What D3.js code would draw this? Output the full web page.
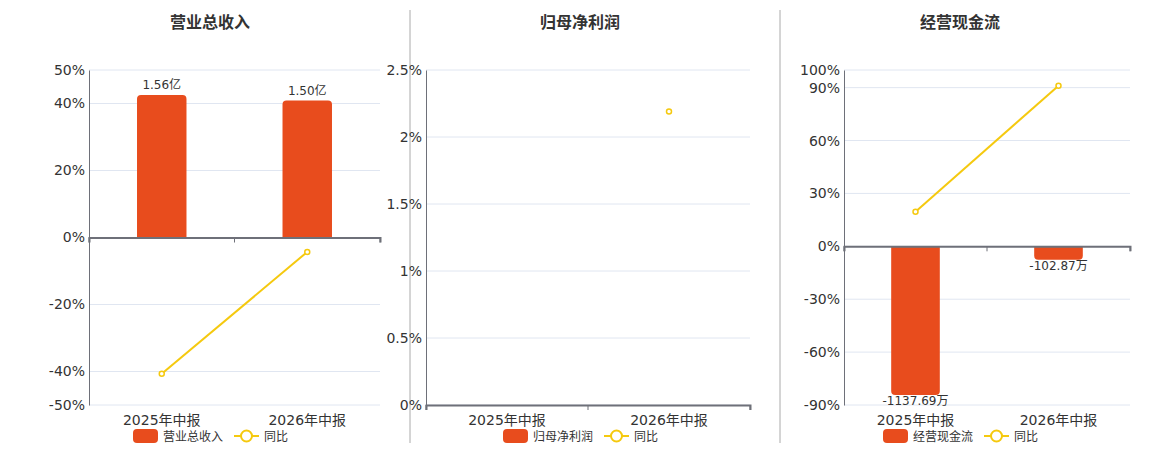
<!DOCTYPE html>
<html><head><meta charset="utf-8">
<script src="https://cdn.jsdelivr.net/npm/d3@7/dist/d3.min.js"></script>
<style>body{margin:0;background:#fff;}svg{display:block;font-family:"DejaVu Sans","Noto Sans CJK SC",sans-serif;}</style>
</head><body><svg id="c" width="1160" height="450"></svg>
<script>
const categories = ["2025年中报", "2026年中报"];
const titles = ["营业总收入", "归母净利润", "经营现金流"];
// bar values (亿 / 万), null = no data
const revenueBars = [1.56, 1.50];
const revenueBarLabels = ["1.56亿", "1.50亿"];
const revenueYoY = [-40.7, -4.3];
const profitBars = [null, null];
const profitBarLabels = ["", ""];
const profitYoY = [null, 2.19];
const cashBars = [-1137.69, -102.87];
const cashBarLabels = ["-1137.69万", "-102.87万"];
const cashYoY = [19.6, 91.1];
const revenueTicks = [50, 40, 20, 0, -20, -40, -50];
const profitTicks = [2.5, 2, 1.5, 1, 0.5, 0];
const cashTicks = [100, 90, 60, 30, 0, -30, -60, -90];

const BAR = "#E84C1D", LINE = "#F5C90F";
const svg = d3.select("#c");

const panels = [
  {title: titles[0], x0: 89, x1: 380, cx: 210, ticks: revenueTicks, dom: [-50, 50], bars: revenueBars, labels: revenueBarLabels, yoy: revenueYoY, barDom: [-1.835, 1.835], legend: "营业总收入", legX: 133},
  {title: titles[1], x0: 426, x1: 750, cx: 580, ticks: profitTicks, dom: [0, 2.5], bars: profitBars, labels: profitBarLabels, yoy: profitYoY, barDom: [0, 1], legend: "归母净利润", legX: 503},
  {title: titles[2], x0: 844, x1: 1130, cx: 960, ticks: cashTicks, dom: [-90, 100], bars: cashBars, labels: cashBarLabels, yoy: cashYoY, barDom: [-1214, 1349], legend: "经营现金流", legX: 883}
];
const yTop = 70, yBot = 405;

// dividers
[410, 780].forEach(x => svg.append("line").attr("x1", x).attr("x2", x).attr("y1", 10).attr("y2", 443).attr("stroke", "#aaa").attr("stroke-width", 1));

function roundedBar(x, w, y0, y1, r) {
  const h = Math.abs(y1 - y0);
  r = Math.min(r, h, w / 2);
  if (y1 < y0) {
    return `M${x},${y0}V${y1 + r}Q${x},${y1} ${x + r},${y1}H${x + w - r}Q${x + w},${y1} ${x + w},${y1 + r}V${y0}Z`;
  } else {
    return `M${x},${y0}V${y1 - r}Q${x},${y1} ${x + r},${y1}H${x + w - r}Q${x + w},${y1} ${x + w},${y1 - r}V${y0}Z`;
  }
}

panels.forEach(p => {
  const g = svg.append("g");
  g.append("text").attr("x", p.cx).attr("y", 28).attr("text-anchor", "middle")
    .attr("font-size", 16).attr("font-weight", "bold").attr("fill", "#333").text(p.title);

  const x = d3.scaleBand().domain(categories).range([p.x0, p.x1]);
  const y = d3.scaleLinear().domain(p.dom).range([yBot, yTop]);
  const yb = d3.scaleLinear().domain(p.barDom).range([yBot, yTop]);
  const zero = y(0);

  g.selectAll(".grid").data(p.ticks).enter().append("line")
    .attr("x1", p.x0).attr("x2", p.x1).attr("y1", d => y(d)).attr("y2", d => y(d))
    .attr("stroke", "#e0e6f1").attr("stroke-width", 1);

  const ya = g.append("g").attr("transform", `translate(${p.x0},0)`)
    .call(d3.axisLeft(y).tickValues(p.ticks).tickSize(0).tickPadding(4).tickFormat(d => d + "%"));
  ya.select(".domain").attr("stroke", "#6e7079");
  ya.selectAll("text").attr("font-size", 14).attr("fill", "#333").attr("font-family", "DejaVu Sans");

  const bw = x.bandwidth() * 0.34;
  p.bars.forEach((v, i) => {
    if (v == null) return;
    const cx = x(categories[i]) + x.bandwidth() / 2;
    const y1 = yb(v) + (zero - yb(0));
    g.append("path").attr("d", roundedBar(cx - bw / 2, bw, zero, y1, 4)).attr("fill", BAR);
    const lab = g.append("text").attr("x", cx).attr("text-anchor", "middle").attr("font-size", 12).attr("fill", "#333").text(p.labels[i]);
    if (v >= 0) lab.attr("y", y1 - 6); else lab.attr("y", y1 + 10);
  });

  const xa = g.append("g").attr("transform", `translate(0,${zero})`)
    .call(d3.axisBottom(x).tickSize(5).tickFormat(""));
  xa.select(".domain").attr("stroke", "#6e7079").attr("stroke-width", 2);
  xa.selectAll(".tick line").attr("stroke", "#6e7079").attr("transform", `translate(${-x.bandwidth() / 2},0)`);
  xa.append("line").attr("x1", p.x1).attr("x2", p.x1).attr("y1", 0).attr("y2", 5).attr("stroke", "#6e7079");
  categories.forEach(c => {
    g.append("text").attr("x", x(c) + x.bandwidth() / 2).attr("y", 425).attr("text-anchor", "middle")
      .attr("font-size", 14).attr("fill", "#333").text(c);
  });

  const pts = p.yoy.map((v, i) => ({v, c: categories[i]}));
  const line = d3.line().defined(d => d.v != null).x(d => x(d.c) + x.bandwidth() / 2).y(d => y(d.v));
  g.append("path").datum(pts).attr("d", line).attr("fill", "none").attr("stroke", LINE).attr("stroke-width", 2);
  pts.filter(d => d.v != null).forEach(d => {
    g.append("circle").attr("cx", x(d.c) + x.bandwidth() / 2).attr("cy", y(d.v)).attr("r", 2.5)
      .attr("fill", "#fff").attr("stroke", LINE).attr("stroke-width", 1.5);
  });

  const lx = p.legX;
  g.append("rect").attr("x", lx).attr("y", 429).attr("width", 25).attr("height", 14).attr("rx", 4).attr("fill", BAR);
  g.append("text").attr("x", lx + 30).attr("y", 440.5).attr("font-size", 12).attr("fill", "#333").text(p.legend);
  const lx2 = lx + 101;
  g.append("line").attr("x1", lx2).attr("x2", lx2 + 25).attr("y1", 436).attr("y2", 436).attr("stroke", LINE).attr("stroke-width", 2);
  g.append("circle").attr("cx", lx2 + 12.5).attr("cy", 436).attr("r", 5.5).attr("fill", "#fff").attr("stroke", LINE).attr("stroke-width", 2);
  g.append("text").attr("x", lx2 + 30).attr("y", 440.5).attr("font-size", 12).attr("fill", "#333").text("同比");
});
</script></body></html>
